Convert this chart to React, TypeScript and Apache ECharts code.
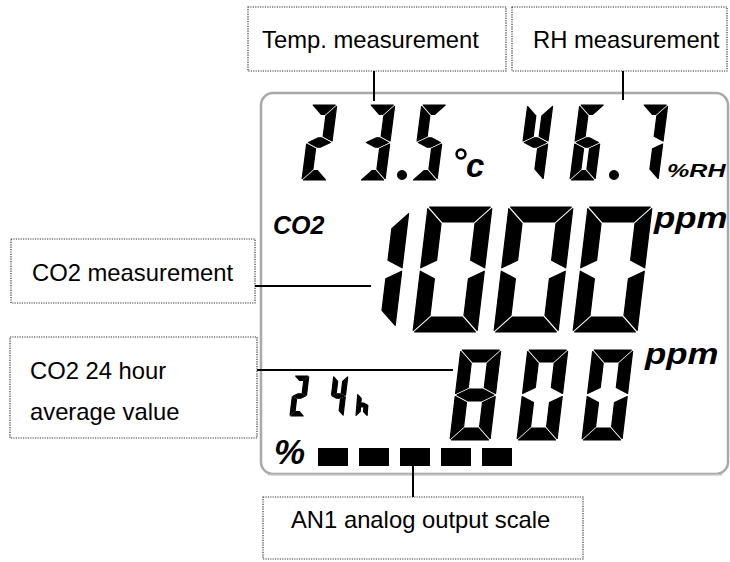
import React, { useEffect, useRef } from "react";
import * as echarts from "echarts";

// ---- Display readings (data) ----
const temperature = "23.5";
const humidity = "46.7";
const co2Current = "1000";
const co2Average = "800";
const averageHours = "24";
const averageUnit = "h";
const analogScaleBars = [1, 1, 1, 1, 1];
const calloutLabels = [
  "Temp. measurement",
  "RH measurement",
  "CO2 measurement",
  "CO2 24 hour\naverage value",
  "AN1 analog output scale",
];
const unitLabels = ["c", "%RH", "CO2", "ppm", "ppm", "%"];

// ---- 7-segment machinery ----
const SEG_MAP: Record<string, string> = {
  "0": "abcdef", "1": "bc", "2": "abdeg", "3": "abcdg", "4": "bcfg",
  "5": "acdfg", "6": "acdefg", "7": "abc", "8": "abcdefg", "9": "abcdfg", h: "cefg",
};

function segShapes(W: number, H: number, T: number, g: number): Record<string, number[][]> {
  const m = H / 2;
  return {
    a: [[g, 0], [W - g, 0], [W - T - g, T], [T + g, T]],
    b: [[W, g], [W, m - g], [W - T, m - T / 2 - g], [W - T, T + g]],
    c: [[W, m + g], [W, H - g], [W - T, H - T - g], [W - T, m + T / 2 + g]],
    d: [[T + g, H - T], [W - T - g, H - T], [W - g, H], [g, H]],
    e: [[0, m + g], [T, m + T / 2 + g], [T, H - T - g], [0, H - g]],
    f: [[0, g], [T, T + g], [T, m - T / 2 - g], [0, m - g]],
    g: [[g, m], [T + g, m - T / 2], [W - T - g, m - T / 2], [W - g, m], [W - T - g, m + T / 2], [T + g, m + T / 2]],
  };
}

type DigitCfg = {
  slots: number[]; y: number; H: number; W: number; T: number; g: number; skew: number;
  dot?: number[]; narrowOneInset?: number;
};

function renderDigits(text: string, cfg: DigitCfg): any[] {
  const out: any[] = [];
  let idx = 0;
  for (let i = 0; i < text.length; i++) {
    const ch = text[i];
    if (ch === ".") {
      if (cfg.dot) {
        out.push({ type: "circle", silent: true, shape: { cx: cfg.dot[0], cy: cfg.dot[1], r: cfg.dot[2] }, style: { fill: "#000" } });
      }
      continue;
    }
    const x0 = cfg.slots[idx++];
    let W = cfg.W, H = cfg.H, y0 = cfg.y;
    if (ch === "1" && i === 0 && cfg.narrowOneInset !== undefined) {
      W = cfg.T;
      H = cfg.H - 2 * cfg.narrowOneInset;
      y0 = cfg.y + cfg.narrowOneInset;
    }
    const shapes = segShapes(W, H, cfg.T, cfg.g);
    (SEG_MAP[ch] || "").split("").forEach((s) => {
      out.push({
        type: "polygon",
        silent: true,
        shape: { points: shapes[s].map(([x, y]) => [x0 + x + (H - y) * cfg.skew, y0 + y]) },
        style: { fill: "#000", stroke: "#000", lineWidth: 1.2, lineJoin: "round" },
      });
    });
  }
  return out;
}

const LAYOUT = {
  temp: { slots: [302, 360, 412], y: 105, H: 75, W: 25, T: 9.5, g: 1.5, skew: 0.13, dot: [402, 175, 5] },
  rh: { slots: [518, 570, 633], y: 105, H: 75, W: 25, T: 9.5, g: 1.5, skew: 0.13, dot: [614, 175, 5] },
  co2: { slots: [380, 413, 494, 573], y: 207, H: 125, W: 64, T: 15, g: 1.7, skew: 0.12, narrowOneInset: 5 },
  avg: { slots: [450, 517, 582], y: 350, H: 90, W: 40, T: 12, g: 1.5, skew: 0.12 },
  hours: { slots: [290, 329], y: 376, H: 40, W: 14, T: 4.5, g: 0.9, skew: 0.12 },
  hourUnit: { slots: [356], y: 394, H: 22, W: 11, T: 3.8, g: 0.6, skew: 0.08 },
};

const BOX_FONT = '23.8px "Liberation Sans", Arial, sans-serif';
const LCD_FONT = 'italic bold {s}px "Liberation Sans", Arial, sans-serif';

function box(x: number, y: number, w: number, h: number) {
  return {
    type: "rect", silent: true,
    shape: { x, y, width: w, height: h },
    style: { fill: "none", stroke: "#333", lineWidth: 1.2, lineDash: [1.2, 1.2] },
  };
}
function line(x1: number, y1: number, x2: number, y2: number) {
  return { type: "line", silent: true, shape: { x1, y1, x2, y2 }, style: { stroke: "#000", lineWidth: 2 } };
}
function label(text: string, x: number, y: number, font: string, extra: any = {}) {
  const { scaleX, ...st } = extra;
  return {
    type: "text", silent: true, x, y, scaleX: scaleX || 1,
    style: { text, font, fill: "#000", textAlign: "left", textVerticalAlign: "middle", ...st },
  };
}

export default function App() {
  const ref = useRef<HTMLDivElement>(null);
  useEffect(() => {
    if (!ref.current) return;
    const chart = echarts.init(ref.current, undefined, { renderer: "svg" });
    const els: any[] = [];

    // LCD frame
    els.push({
      type: "rect", silent: true,
      shape: { x: 261, y: 93, width: 467, height: 381, r: 12 },
      style: { fill: "#fff", stroke: "#a9a9a9", lineWidth: 2.5 },
    });
    els.push({ type: "line", silent: true, shape: { x1: 268, y1: 474.8, x2: 722, y2: 474.8 }, style: { stroke: "#c4c4c4", lineWidth: 1.5 } });

    // callout boxes
    els.push(box(248, 7, 258, 64));
    els.push(label(calloutLabels[0], 262, 39, BOX_FONT));
    els.push(box(512, 7, 215, 64));
    els.push(label(calloutLabels[1], 533, 39, BOX_FONT));
    els.push(box(11, 239, 244, 64));
    els.push(label(calloutLabels[2], 32, 272, BOX_FONT));
    els.push(box(10, 337, 247, 101));
    els.push(label(calloutLabels[3], 30, 390.5, BOX_FONT, { lineHeight: 41 }));
    els.push(box(263, 497, 320, 62));
    els.push(label(calloutLabels[4], 291, 519, BOX_FONT));

    // connectors
    els.push(line(374, 71, 374, 101));
    els.push(line(623, 71, 623, 100));
    els.push(line(255, 286, 371, 286));
    els.push(line(257, 370, 453, 370));
    els.push(line(413, 462, 413, 497));

    // digits
    els.push(...renderDigits(temperature, LAYOUT.temp));
    els.push(...renderDigits(humidity, LAYOUT.rh));
    els.push(...renderDigits(co2Current, LAYOUT.co2));
    els.push(...renderDigits(co2Average, LAYOUT.avg));
    els.push(...renderDigits(averageHours, LAYOUT.hours));
    els.push(...renderDigits(averageUnit, LAYOUT.hourUnit));

    // units
    els.push({ type: "circle", silent: true, shape: { cx: 461, cy: 154, r: 4.5 }, style: { fill: "none", stroke: "#000", lineWidth: 2.5 } });
    els.push(label(unitLabels[0], 466, 165, LCD_FONT.replace("{s}", "33")));
    els.push(label(unitLabels[1], 667, 170.5, LCD_FONT.replace("{s}", "19"), { scaleX: 1.32 }));
    els.push(label(unitLabels[2], 273, 224.5, LCD_FONT.replace("{s}", "25")));
    els.push(label(unitLabels[3], 654, 218, LCD_FONT.replace("{s}", "29"), { scaleX: 1.2 }));
    els.push(label(unitLabels[4], 645, 354, LCD_FONT.replace("{s}", "29"), { scaleX: 1.2 }));
    els.push(label(unitLabels[5], 274, 451, LCD_FONT.replace("{s}", "35")));

    // analog scale bars
    analogScaleBars.forEach((on, i) => {
      if (!on) return;
      els.push({
        type: "rect", silent: true,
        shape: { x: 318 + i * 41, y: 448, width: 30, height: 18 },
        style: { fill: "#000" },
      });
    });

    chart.setOption({ animation: false, graphic: { elements: els } });
    return () => chart.dispose();
  }, []);
  return (
    <div
      ref={ref}
      style={{ position: "fixed", left: 0, top: 0, width: 730, height: 562, background: "#fff" }}
    />
  );
}
